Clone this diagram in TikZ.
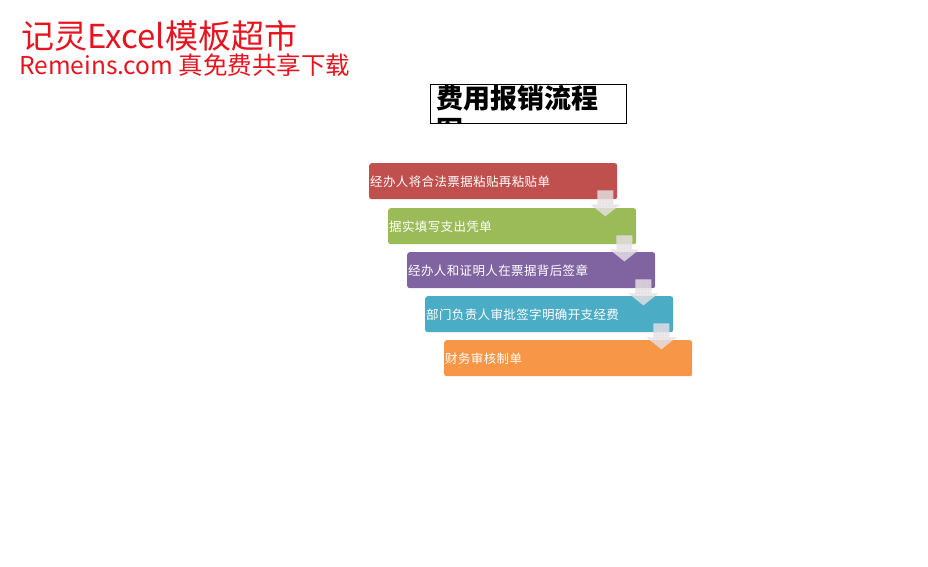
\documentclass[tikz,border=0pt]{standalone}
\usepackage{fontspec}
\newfontfamily\cjk{Noto Sans CJK SC}
\newfontfamily\stepfont[LetterSpace=3]{Noto Sans CJK SC}
\usepackage{tikz}
\usetikzlibrary{positioning,calc,patterns}

\definecolor{markred}{RGB}{230,20,30}
\definecolor{stepred}{RGB}{192,80,77}
\definecolor{stepgreen}{RGB}{155,187,89}
\definecolor{steppurple}{RGB}{128,100,162}
\definecolor{stepteal}{RGB}{75,172,198}
\definecolor{steporange}{RGB}{247,150,70}
\definecolor{arrowgray}{RGB}{232,226,230}

% arrow that hangs from the lower right of a step box
\newcommand{\downarr}[1]{
	\fill[arrowfill] ($(#1.south east)+(-20,9)$) -- ++(16,0) -- ++(0,-14) -- ++(7,0)
		-- ++(-15,-12) -- ++(-15,12) -- ++(7,0) -- cycle;
}

\begin{document}
\begin{tikzpicture}[x=1pt,y=1pt,
	stepbox/.style={rectangle,rounded corners=2.5pt,minimum width=248pt,minimum height=36pt,
		text width=246pt,align=left,inner sep=0.5pt,anchor=north west,text=white,
		text depth=-1pt,font=\stepfont\fontsize{12.5}{14}\selectfont},
	arrowfill/.style={fill=arrowgray,fill opacity=0.82,postaction={pattern=dots,pattern color=black!25}},
	brandtext/.style={anchor=north west,inner sep=0pt,text=markred}]
	\useasboundingbox (0,0) rectangle (928,-566);

	\node[brandtext]	(brand)		at (21,-20)		{\cjk\fontsize{33}{35}\selectfont 记灵Excel模板超市};
	\node[brandtext]	(site)		at (19,-54)		{\cjk\fontsize{24.5}{26}\selectfont Remeins.com 真免费共享下载};

	% title, second line is cut by the frame
	\begin{scope}
		\clip (430,-84) rectangle (626,-123);
		\node[anchor=north west,inner sep=0pt,align=left,font=\cjk\bfseries\fontsize{27}{32}\selectfont]
			(title) at (436,-85) {费用报销流程\\图};
	\end{scope}
	\draw[black,line width=0.6pt] (430,-84) rectangle (626,-123);

	\node[stepbox,fill=stepred]		(s1)	at (369,-163)	{经办人将合法票据粘贴再粘贴单};
	\node[stepbox,fill=stepgreen]		(s2)	at (388,-208)	{据实填写支出凭单};
	\node[stepbox,fill=steppurple]	(s3)	at (407,-252)	{经办人和证明人在票据背后签章};
	\node[stepbox,fill=stepteal]		(s4)	at (425,-296)	{部门负责人审批签字明确开支经费};
	\node[stepbox,fill=steporange]	(s5)	at (444,-340)	{财务审核制单};

	\downarr{s1}
	\downarr{s2}
	\downarr{s3}
	\downarr{s4}
\end{tikzpicture}
\end{document}
